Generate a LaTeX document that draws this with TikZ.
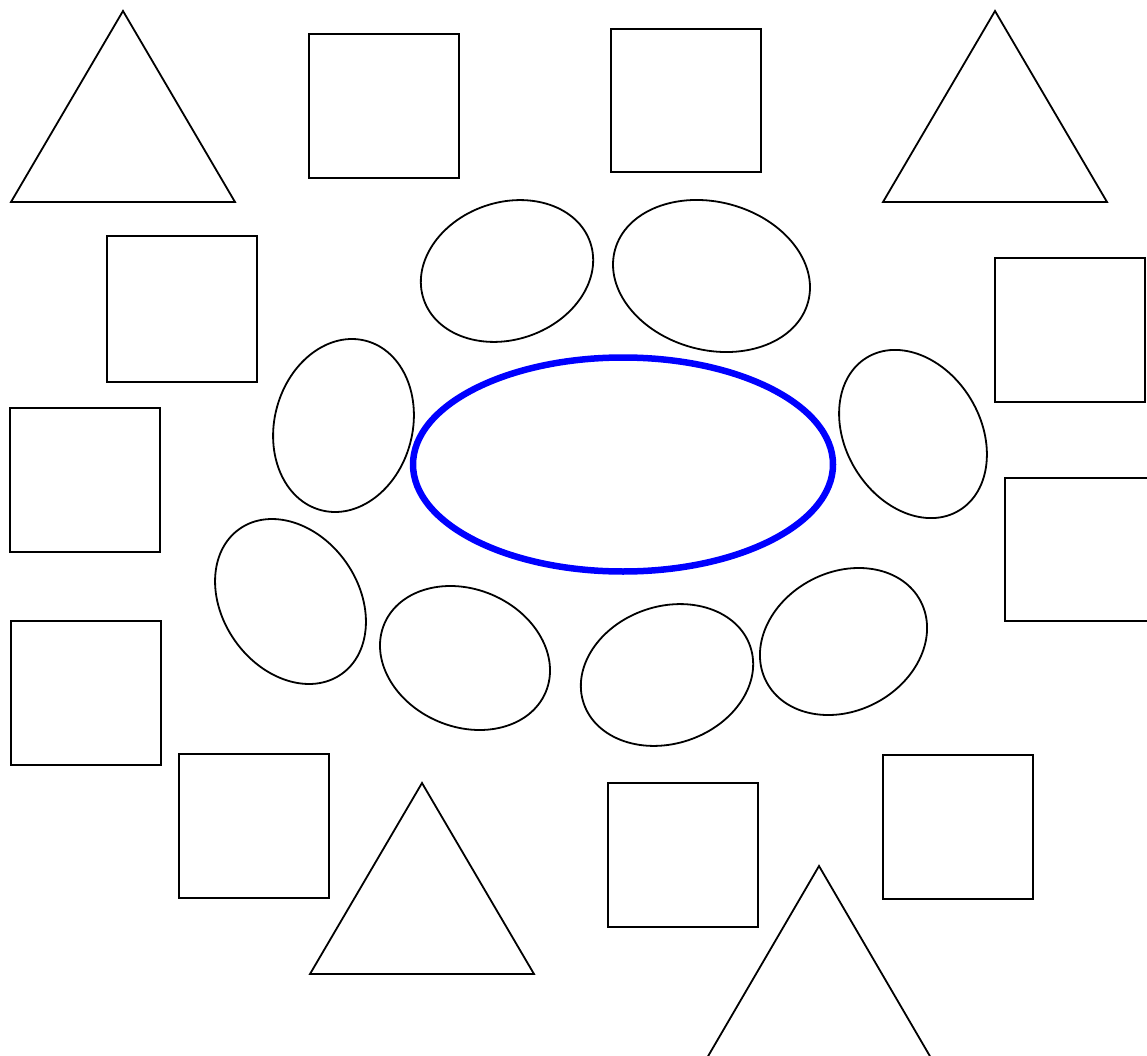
\documentclass[tikz,border=0pt]{standalone}
\usetikzlibrary{calc}
\begin{document}
\begin{tikzpicture}[x=1pt,y=-1pt,
  shp/.style={draw=black,line width=1.8pt,line join=miter},
  bigell/.style={draw=blue,line width=6.5pt}]
\useasboundingbox (0,0) rectangle (1147,1056);
\clip (0,0) rectangle (1147,1056);
% triangles
\draw[shp] (11,202) -- (123,11) -- (235,202) -- cycle;
\draw[shp] (883,202) -- (995,11) -- (1107,202) -- cycle;
\draw[shp] (310,974) -- (422,783) -- (534,974) -- cycle;
\draw[shp] (707,1058) -- (819,866) -- (931,1058);
% squares
\draw[shp] (309,34) rectangle (459,178);
\draw[shp] (611,29) rectangle (761,172);
\draw[shp] (107,236) rectangle (257,382);
\draw[shp] (995,258) rectangle (1145,402);
\draw[shp] (10,408) rectangle (160,552);
\draw[shp] (1150,478) -- (1005,478) -- (1005,621) -- (1150,621);
\draw[shp] (11,621) rectangle (161,765);
\draw[shp] (179,754) rectangle (329,898);
\draw[shp] (608,783) rectangle (758,927);
\draw[shp] (883,755) rectangle (1033,899);
% central ellipse
\draw[bigell] (623,464.5) ellipse [x radius=210, y radius=107];
% small ellipses
\draw[shp,rotate around={19:(507,271)}] (507,271) ellipse [x radius=88, y radius=68.6];
\draw[shp,rotate around={-15:(711.5,276)}] (711.5,276) ellipse [x radius=100, y radius=74];
\draw[shp,rotate around={-15:(343.5,425.5)}] (343.5,425.5) ellipse [x radius=69, y radius=87.6];
\draw[shp,rotate around={31:(913,434)}] (913,434) ellipse [x radius=67.5, y radius=89.3];
\draw[shp,rotate around={35:(290.5,601.5)}] (290.5,601.5) ellipse [x radius=68, y radius=88.7];
\draw[shp,rotate around={-23:(465,658)}] (465,658) ellipse [x radius=87.6, y radius=68.8];
\draw[shp,rotate around={19:(667,675)}] (667,675) ellipse [x radius=88, y radius=68.6];
\draw[shp,rotate around={27.5:(843.5,641.5)}] (843.5,641.5) ellipse [x radius=87, y radius=69.4];
\end{tikzpicture}
\end{document}
